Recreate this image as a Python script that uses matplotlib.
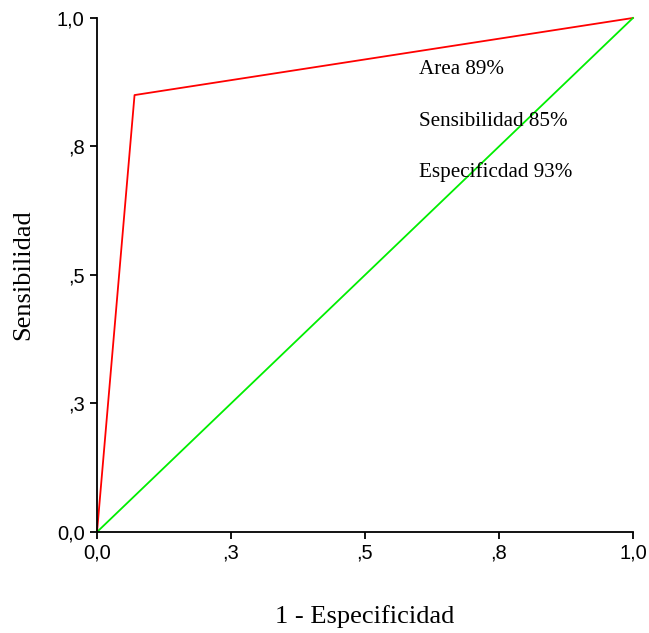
import numpy as np
import matplotlib.pyplot as plt

# ROC curve points (1 - specificity, sensitivity)
roc_x = [0.0, 0.07, 1.0]
roc_y = [0.0, 0.85, 1.0]
ref_x = [0.0, 1.0]
ref_y = [0.0, 1.0]

tick_pos = [0.0, 0.25, 0.5, 0.75, 1.0]
tick_lbl = ['0,0', ',3', ',5', ',8', '1,0']

notes = ['Area 89%', 'Sensibilidad 85%', 'Especificdad 93%']
note_y = [0.899, 0.799, 0.700]

fig = plt.figure(figsize=(6.49, 6.33), dpi=100)
ax = fig.add_axes([0.1495, 0.1596, 0.8258, 0.812])

ax.plot(roc_x, roc_y, color='#ff0000', lw=1.3, clip_on=False)
ax.plot(ref_x, ref_y, color='#00ee00', lw=1.3, clip_on=False)

for t, yy in zip(notes, note_y):
    ax.text(0.601, yy, t, fontsize=15.2, family='Liberation Serif', va='center', ha='left')

ax.set_xlim(0, 1)
ax.set_ylim(0, 1)
ax.set_xticks(tick_pos)
ax.set_xticklabels(tick_lbl, family='Liberation Sans', fontsize=14.5)
ax.set_yticks(tick_pos)
ax.set_yticklabels(tick_lbl, family='Liberation Sans', fontsize=14.5)
ax.tick_params(direction='out', length=5, width=1.3, pad=4)
ax.tick_params(axis='x', pad=3)

for s in ['top', 'right']:
    ax.spines[s].set_visible(False)
for s in ['left', 'bottom']:
    ax.spines[s].set_linewidth(1.3)

ax.set_xlabel('1 - Especificidad', family='Liberation Serif', fontsize=19, labelpad=31)
ax.set_ylabel('Sensibilidad', family='Liberation Serif', fontsize=19, labelpad=16)

plt.savefig('out.png', dpi=100)
